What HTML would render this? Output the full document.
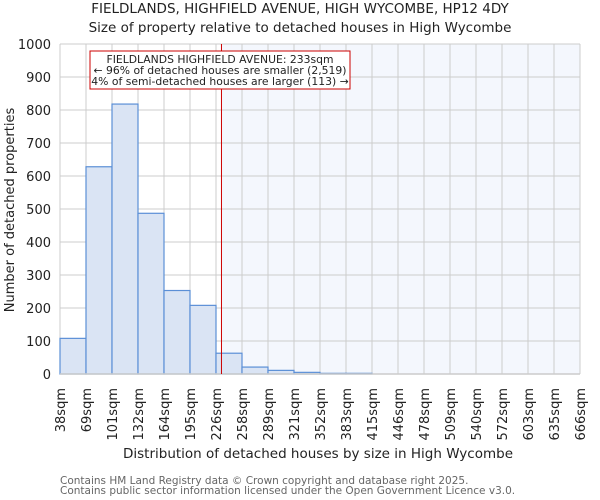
<!DOCTYPE html>
<html><head><meta charset="utf-8"><style>
body{margin:0;background:#fff}
svg{display:block;font-family:"DejaVu Sans","Liberation Sans",sans-serif}
</style></head><body>
<svg id="c" width="600" height="500" viewBox="0 0 600 500">
<text x="300" y="13" text-anchor="middle" font-size="13.5" fill="#222">FIELDLANDS, HIGHFIELD AVENUE, HIGH WYCOMBE, HP12 4DY</text>
<text x="300" y="32" text-anchor="middle" font-size="13.5" fill="#222">Size of property relative to detached houses in High Wycombe</text>
<g id="plot"></g>
<text transform="translate(14,210) rotate(-90)" text-anchor="middle" font-size="13" fill="#222">Number of detached properties</text>
<text x="318" y="458" text-anchor="middle" font-size="13.5" fill="#222">Distribution of detached houses by size in High Wycombe</text>
<text x="60" y="484" font-size="10.5" fill="#666">Contains HM Land Registry data © Crown copyright and database right 2025.</text>
<text x="60" y="494" font-size="10.5" fill="#666">Contains public sector information licensed under the Open Government Licence v3.0.</text>
</svg>
<script>
const categories=["38sqm","69sqm","101sqm","132sqm","164sqm","195sqm","226sqm","258sqm","289sqm","321sqm","352sqm","383sqm","415sqm","446sqm","478sqm","509sqm","540sqm","572sqm","603sqm","635sqm","666sqm"];
const counts=[108,628,818,487,253,208,63,21,11,5,2,2,0,0,0,0,0,0,0,0];
const yTicks=[0,100,200,300,400,500,600,700,800,900,1000];
const markerValue=233;
const binStart=38, binEnd=666;
const NS="http://www.w3.org/2000/svg";
const L=60,R=580,T=44,B=374,yMax=1000;
const x=i=>L+(R-L)*i/counts.length;
const xv=v=>L+(R-L)*(v-binStart)/(binEnd-binStart);
const y=v=>B-(B-T)*v/yMax;
const g=document.getElementById('plot');
function mk(t,a){const e=document.createElementNS(NS,t);for(const k in a)e.setAttribute(k,a[k]);g.appendChild(e);return e;}
const mx=xv(markerValue);
const sh=mk('rect',{x:mx,y:T,width:R-mx,height:B-T,fill:'#f4f7fd'});


yTicks.forEach(v=>{
 const l=mk('line',{x1:L,x2:R,y1:y(v),y2:y(v),stroke:'#ccc','stroke-width':1});
 
 
 const t=mk('text',{x:L-9,y:y(v)+5,'text-anchor':'end','font-size':13,fill:'#222'});
 t.textContent=v;
 
 
});
categories.forEach((c,i)=>{
 const l=mk('line',{x1:x(i),x2:x(i),y1:T,y2:B,stroke:'#ccc','stroke-width':1});
 
 
 const t=mk('text',{transform:`translate(${x(i)+5},388) rotate(-90)`,'text-anchor':'end','font-size':13,fill:'#222'});
 t.textContent=c;
 
 
});
counts.forEach((v,i)=>{
 if(v<=0)return;
 const r=mk('rect',{x:x(i),y:y(v),width:x(i+1)-x(i),height:B-y(v),fill:'#dae4f4',stroke:'#5b8fd6','stroke-width':1.2});
 
 
});
const ax=mk('line',{x1:L,x2:R,y1:B,y2:B,stroke:'#ccc','stroke-width':1.5});


const ml=mk('line',{x1:mx,x2:mx,y1:T,y2:B,stroke:'#c00','stroke-width':1});


const box=mk('rect',{x:90,y:51,width:260,height:38,fill:'#fff',stroke:'#c00','stroke-width':1});


const lines=["FIELDLANDS HIGHFIELD AVENUE: 233sqm","← 96% of detached houses are smaller (2,519)","4% of semi-detached houses are larger (113) →"];
lines.forEach((s,i)=>{
 const t=mk('text',{x:220,y:63+i*11,'text-anchor':'middle','font-size':10.8,fill:'#222'});
 t.textContent=s;
 
 
});
</script>
</body></html>
